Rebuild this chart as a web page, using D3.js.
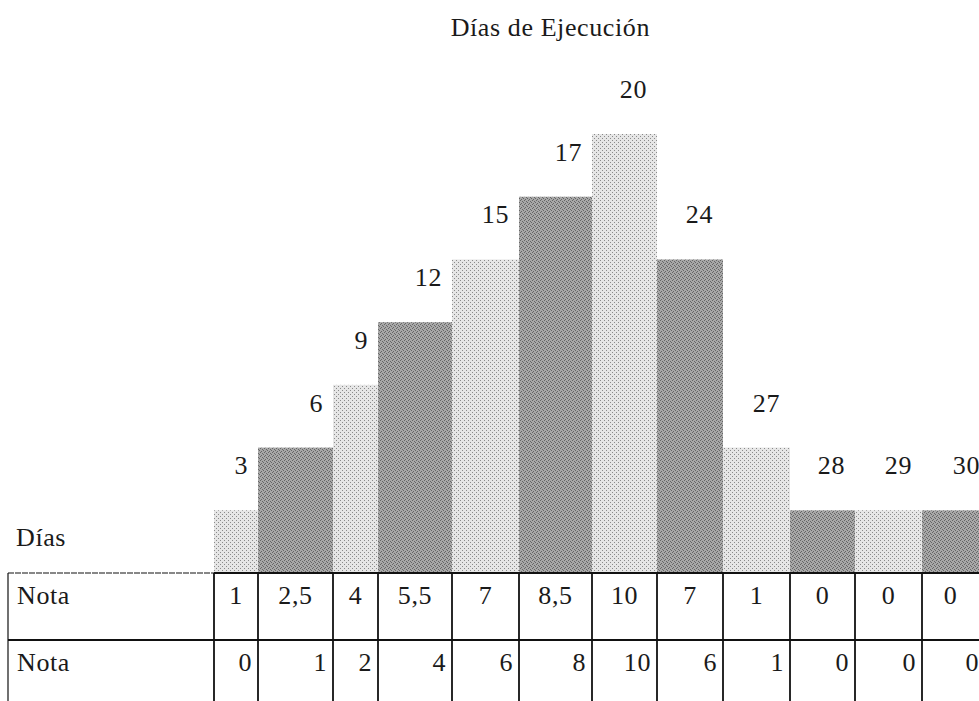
<!DOCTYPE html>
<html>
<head>
<meta charset="utf-8">
<script src="https://cdn.jsdelivr.net/npm/d3@7"></script>
<style>
  body { margin: 0; background: #fff; }
  text { font-family: "Liberation Serif", "DejaVu Serif", serif; fill: #1a1a1a; letter-spacing: 0.6px; }
</style>
</head>
<body>
<svg id="chart" width="979" height="701"></svg>
<script>
// datos
const dias = [3, 6, 9, 12, 15, 17, 20, 24, 27, 28, 29, 30];
const alturas = [1, 2, 3, 4, 5, 6, 7, 5, 2, 1, 1, 1];
const notaFila1 = ["1", "2,5", "4", "5,5", "7", "8,5", "10", "7", "1", "0", "0", "0"];
const notaFila2 = ["0", "1", "2", "4", "6", "8", "10", "6", "1", "0", "0", "0"];
const titulo = "Días de Ejecución";
const etiquetaFilas = ["Días", "Nota", "Nota"];

// layout (column edges of the table, bars share them)
const colEdges = [214, 258, 333, 378, 452, 519, 592, 657, 723, 790, 855, 922, 990];
const tableLeft = 8, tableTop = 573, rowH = 67;
const fs = 26;

const svg = d3.select("#chart");

// halftone-like fills (the original is a scanned print)
const defs = svg.append("defs");
function stipple(id, base, dot, pts) {
  const p = defs.append("pattern")
    .attr("id", id)
    .attr("width", 4).attr("height", 4)
    .attr("patternUnits", "userSpaceOnUse");
  p.append("rect").attr("width", 4).attr("height", 4).attr("fill", base);
  pts.forEach(q => p.append("rect").attr("x", q[0]).attr("y", q[1])
    .attr("width", 1).attr("height", 1).attr("fill", dot));
}
stipple("claro", "#e6e6e6", "#8a8a8a", [[0, 0], [2, 2]]);
stipple("oscuro", "#a8a8a8", "#666", [[0, 0], [2, 1], [1, 3], [3, 2]]);

const x = d3.scaleOrdinal().domain(dias).range(colEdges.slice(0, -1));
const xRight = d3.scaleOrdinal().domain(dias).range(colEdges.slice(1));
const y = d3.scaleLinear().domain([0, 7]).range([tableTop, 134]);

const bars = dias.map((d, i) => ({ dia: d, h: alturas[i], i: i }));

// bars
svg.selectAll(".bar")
  .data(bars)
  .enter()
  .append("rect")
  .attr("class", "bar")
  .attr("x", d => x(d.dia))
  .attr("y", d => y(d.h))
  .attr("width", d => xRight(d.dia) - x(d.dia))
  .attr("height", d => y(0) - y(d.h))
  .attr("fill", d => d.i % 2 === 0 ? "url(#claro)" : "url(#oscuro)");

// day labels above bars
svg.selectAll(".lab")
  .data(bars)
  .enter()
  .append("text")
  .attr("class", "lab")
  .attr("x", d => xRight(d.dia) - 10)
  .attr("y", d => y(d.h) - 36)
  .attr("text-anchor", "end")
  .attr("font-size", fs)
  .text(d => d.dia);

// title
svg.append("text")
  .attr("x", 650)
  .attr("y", 36)
  .attr("text-anchor", "end")
  .attr("font-size", fs)
  .text(titulo);

// "Días" label
svg.append("text")
  .attr("x", 16)
  .attr("y", 546)
  .attr("font-size", fs)
  .text(etiquetaFilas[0]);

// table lines
const tableRight = colEdges[colEdges.length - 1];
const g = svg.append("g").attr("stroke", "#111").attr("stroke-width", 1.8);
g.append("line")
  .attr("x1", tableLeft).attr("x2", colEdges[0])
  .attr("y1", tableTop).attr("y2", tableTop)
  .attr("stroke-width", 1.2).attr("stroke-dasharray", "6 1");
g.append("line")
  .attr("x1", colEdges[0]).attr("x2", tableRight)
  .attr("y1", tableTop).attr("y2", tableTop);
g.append("line")
  .attr("x1", tableLeft).attr("x2", tableRight)
  .attr("y1", tableTop + rowH).attr("y2", tableTop + rowH);
g.append("line")
  .attr("x1", tableLeft).attr("x2", tableLeft)
  .attr("y1", tableTop).attr("y2", 701)
  .attr("stroke-width", 1.2);
g.selectAll(".vline")
  .data(dias)
  .enter()
  .append("line")
  .attr("class", "vline")
  .attr("x1", d => x(d)).attr("x2", d => x(d))
  .attr("y1", tableTop).attr("y2", 701);

// row labels
[1, 2].forEach(r => {
  svg.append("text")
    .attr("x", 17)
    .attr("y", tableTop + (r - 1) * rowH + 31)
    .attr("font-size", fs)
    .text(etiquetaFilas[r]);
});

// row 1: centered
svg.selectAll(".n1")
  .data(dias)
  .enter()
  .append("text")
  .attr("class", "n1")
  .attr("x", d => (x(d) + Math.min(xRight(d), 979)) / 2)
  .attr("y", tableTop + 31)
  .attr("text-anchor", "middle")
  .attr("font-size", fs)
  .text((d, i) => notaFila1[i]);

// row 2: right aligned
svg.selectAll(".n2")
  .data(dias)
  .enter()
  .append("text")
  .attr("class", "n2")
  .attr("x", d => Math.min(xRight(d), 985) - 6)
  .attr("y", tableTop + rowH + 31)
  .attr("text-anchor", "end")
  .attr("font-size", fs)
  .text((d, i) => notaFila2[i]);
</script>
</body>
</html>
